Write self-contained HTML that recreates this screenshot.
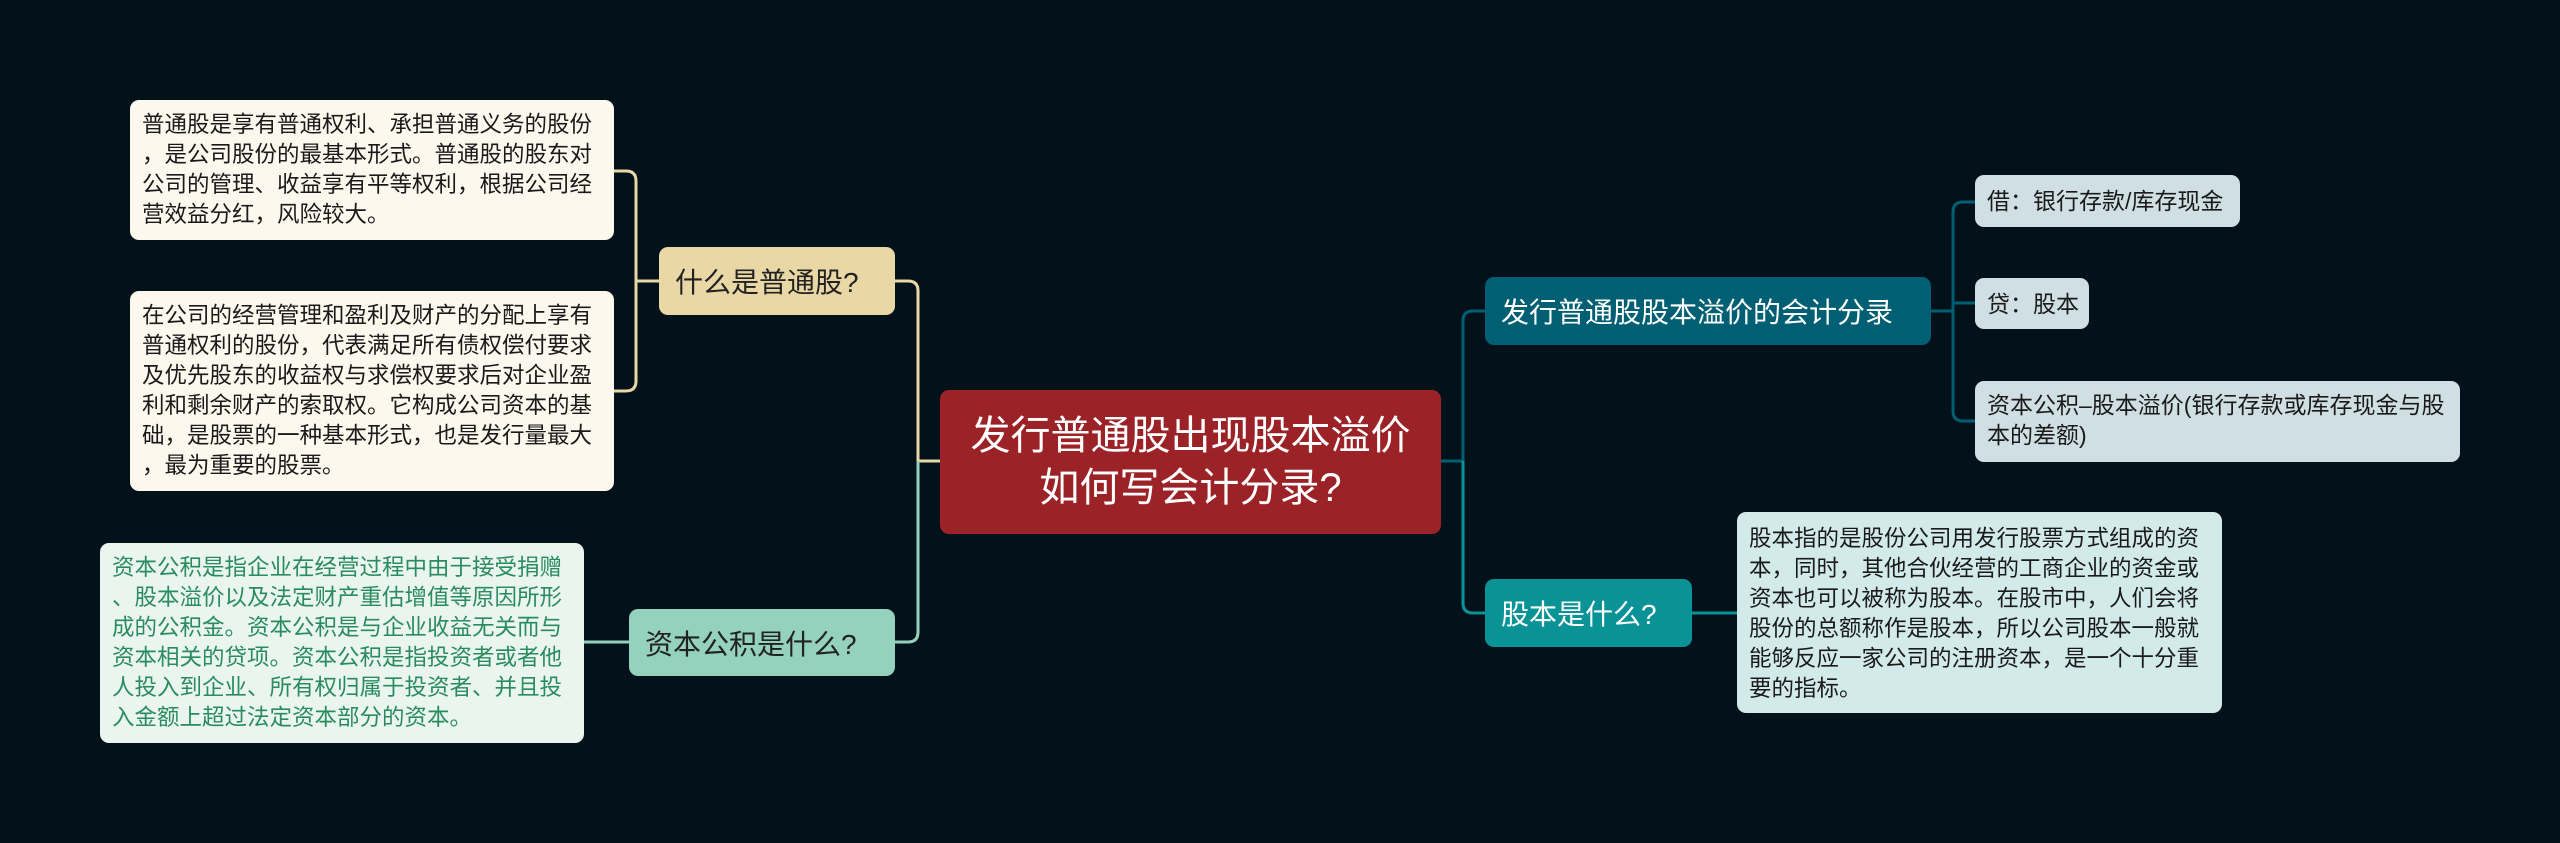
<!DOCTYPE html>
<html><head><meta charset="utf-8"><style>
html,body{margin:0;padding:0;}
body{width:2560px;height:843px;background:#03121a;position:relative;overflow:hidden;font-family:"Liberation Sans","Noto Sans CJK SC",sans-serif;}
.b{position:absolute;box-sizing:border-box;border-radius:9px;}
.d{font-size:22.5px;line-height:30px;color:#1a1a1a;padding:10px 8px 10px 12px;line-break:anywhere;word-break:break-all;}
.n{font-size:28px;display:flex;align-items:center;padding:0 16px;white-space:nowrap;}
.l{font-size:23px;line-height:30px;color:#1a1a1a;padding:11px 12px;line-break:anywhere;}
svg{position:absolute;left:0;top:0;}
</style></head><body>
<svg width="2560" height="843" fill="none" stroke-width="3">
<path d="M940 461 H918 M918 461 V291 Q918 281 908 281 H895" stroke="#e9d8a6"/>
<path d="M918 461 V632 Q918 642 908 642 H895" stroke="#94d2bd"/>
<path d="M659 281 H636 M636 181 Q636 171 626 171 H614 M636 181 V381 Q636 391 626 391 H614" stroke="#e9d8a6"/>
<path d="M584 642 H629" stroke="#94d2bd"/>
<path d="M1441 461 H1463 M1463 461 V321 Q1463 311 1473 311 H1485" stroke="#005f73"/>
<path d="M1463 461 V603 Q1463 613 1473 613 H1485" stroke="#0a9396"/>
<path d="M1931 311 H1953 M1953 311 V212 Q1953 202 1963 202 H1975 M1953 303 H1975 M1953 311 V411 Q1953 421 1963 421 H1975" stroke="#005f73"/>
<path d="M1692 613 H1737" stroke="#0a9396"/>
</svg>

<div class="b" style="left:940px;top:390px;width:501px;height:144px;background:#9b2226;color:#fff;font-size:40px;line-height:52px;text-align:center;display:flex;align-items:center;justify-content:center;">发行普通股出现股本溢价<br>如何写会计分录?</div>

<div class="b n" style="left:659px;top:247px;width:236px;height:68px;background:#e9d8a6;color:#222;">什么是普通股?</div>
<div class="b n" style="left:629px;top:609px;width:266px;height:67px;background:#94d2bd;color:#222;">资本公积是什么?</div>

<div class="b d" style="left:130px;top:100px;width:484px;height:140px;background:#fcf8ee;">普通股是享有普通权利、承担普通义务的股份，是公司股份的最基本形式。普通股的股东对公司的管理、收益享有平等权利，根据公司经营效益分红，风险较大。</div>
<div class="b d" style="left:130px;top:291px;width:484px;height:200px;background:#fcf8ee;">在公司的经营管理和盈利及财产的分配上享有普通权利的股份，代表满足所有债权偿付要求及优先股东的收益权与求偿权要求后对企业盈利和剩余财产的索取权。它构成公司资本的基础，是股票的一种基本形式，也是发行量最大，最为重要的股票。</div>
<div class="b d" style="left:100px;top:543px;width:484px;height:200px;background:#eaf5f0;color:#2a8c5e;">资本公积是指企业在经营过程中由于接受捐赠、股本溢价以及法定财产重估增值等原因所形成的公积金。资本公积是与企业收益无关而与资本相关的贷项。资本公积是指投资者或者他人投入到企业、所有权归属于投资者、并且投入金额上超过法定资本部分的资本。</div>

<div class="b n" style="left:1485px;top:277px;width:446px;height:68px;background:#005f73;color:#fff;">发行普通股股本溢价的会计分录</div>
<div class="b n" style="left:1485px;top:579px;width:207px;height:68px;background:#0a9396;color:#fff;">股本是什么?</div>

<div class="b l" style="left:1975px;top:175px;width:265px;height:52px;background:#cfdfe3;white-space:nowrap;">借：银行存款/库存现金</div>
<div class="b l" style="left:1975px;top:278px;width:114px;height:51px;background:#cfdfe3;white-space:nowrap;">贷：股本</div>
<div class="b l" style="left:1975px;top:381px;width:485px;height:81px;background:#cfdfe3;padding-top:9px;">资本公积–股本溢价(银行存款或库存现金与股本的差额)</div>

<div class="b d" style="left:1737px;top:512px;width:485px;height:201px;background:#d3eaeb;padding-top:12px;">股本指的是股份公司用发行股票方式组成的资本，同时，其他合伙经营的工商企业的资金或资本也可以被称为股本。在股市中，人们会将股份的总额称作是股本，所以公司股本一般就能够反应一家公司的注册资本，是一个十分重要的指标。</div>
</body></html>
